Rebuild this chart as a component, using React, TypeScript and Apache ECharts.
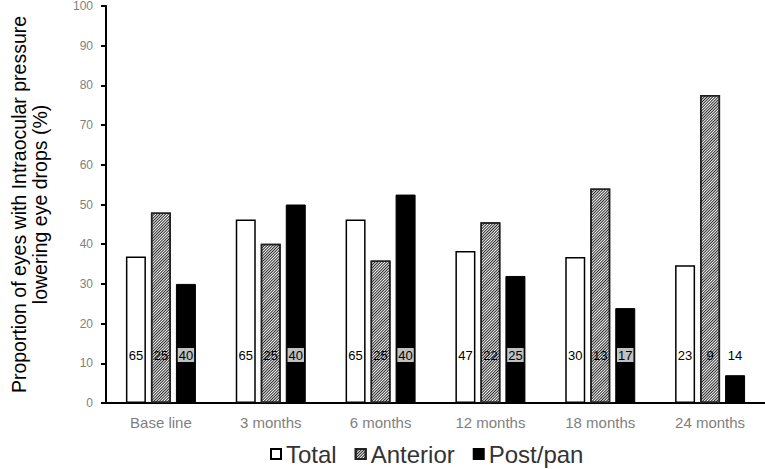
import React, { useEffect, useRef } from "react";
import * as echarts from "echarts";

const categories = ["Base line", "3 months", "6 months", "12 months", "18 months", "24 months"];
const totalPct = [36.9, 46.2, 46.2, 38.3, 36.8, 34.7];
const anteriorPct = [48.0, 40.1, 35.9, 45.5, 54.0, 77.6];
const postPct = [30.0, 50.0, 52.5, 32.0, 23.9, 7.0];
const totalN = [65, 65, 65, 47, 30, 23];
const anteriorN = [25, 25, 25, 22, 13, 9];
const postN = [40, 40, 40, 25, 17, 14];
const yTicks = { min: 0, max: 100, interval: 10 };
const yTitle = "Proportion of eyes with Intraocular pressure\nlowering eye drops (%)";
const seriesNames = ["Total", "Anterior", "Post/pan"];

const FONT = "Liberation Sans";

export default function App() {
  const ref = useRef<HTMLDivElement>(null);
  useEffect(() => {
    if (!ref.current) return;
    const chart = echarts.init(ref.current, null, { renderer: "svg" });
    const hatch = {
      symbol: "rect",
      symbolSize: 1,
      color: "#222",
      dashArrayX: [1, 0],
      dashArrayY: [1, 1],
      rotation: -Math.PI / 4,
    };
    const baseLabel = {
      show: true,
      position: "insideBottom",
      distance: 41,
      fontSize: 13,
      fontFamily: FONT,
      color: "#000",
    };
    chart.setOption({
      animation: false,
      textStyle: { fontFamily: FONT },
      grid: { left: 103, right: 0, top: 5, bottom: 66, containLabel: false },
      legend: {
        data: seriesNames,
        left: 265,
        top: 437,
        icon: "rect",
        itemWidth: 10,
        itemHeight: 10,
        itemGap: 18,
        textStyle: { fontSize: 24, color: "#333", fontFamily: FONT },
      },
      xAxis: {
        type: "category",
        data: categories,
        axisLine: { lineStyle: { color: "#000", width: 2 } },
        axisTick: { show: false },
        axisLabel: { color: "#7f7f7f", fontSize: 15, margin: 12, fontFamily: FONT },
      },
      yAxis: {
        type: "value",
        min: yTicks.min,
        max: yTicks.max,
        interval: yTicks.interval,
        name: yTitle,
        nameLocation: "middle",
        nameRotate: 90,
        nameGap: 56,
        nameTextStyle: { fontSize: 19.5, color: "#000", lineHeight: 21, fontFamily: FONT },
        axisLine: { show: true, lineStyle: { color: "#000", width: 2 } },
        axisTick: { show: true, length: 5, lineStyle: { color: "#000", width: 2 } },
        splitLine: { show: false },
        axisLabel: { color: "#7f7f7f", fontSize: 12, margin: 13, fontFamily: FONT },
      },
      series: [
        {
          name: seriesNames[0],
          type: "bar",
          barWidth: 20,
          barGap: "25%",
          data: totalPct,
          itemStyle: { color: "#fff", borderColor: "#000", borderWidth: 1.5 },
          label: { ...baseLabel, formatter: (p: any) => String(totalN[p.dataIndex]) },
        },
        {
          name: seriesNames[1],
          type: "bar",
          barWidth: 20,
          barGap: "25%",
          data: anteriorPct,
          itemStyle: { color: "#fff", borderColor: "#222", borderWidth: 1.5, decal: hatch },
          label: { ...baseLabel, formatter: (p: any) => String(anteriorN[p.dataIndex]) },
        },
        {
          name: seriesNames[2],
          type: "bar",
          barWidth: 20,
          barGap: "25%",
          data: postPct.map((v, i) =>
            i === postPct.length - 1
              ? { value: v, label: { backgroundColor: "transparent" } }
              : v
          ),
          itemStyle: { color: "#000", borderColor: "#000", borderWidth: 1 },
          label: {
            ...baseLabel,
            backgroundColor: "#c0c0c0",
            padding: [1, 1, 0, 1],
            formatter: (p: any) => String(postN[p.dataIndex]),
          },
        },
      ],
    });
    return () => chart.dispose();
  }, []);
  return (
    <div
      ref={ref}
      style={{ position: "fixed", left: 0, top: 0, width: 765, height: 469, background: "#fff" }}
    />
  );
}
